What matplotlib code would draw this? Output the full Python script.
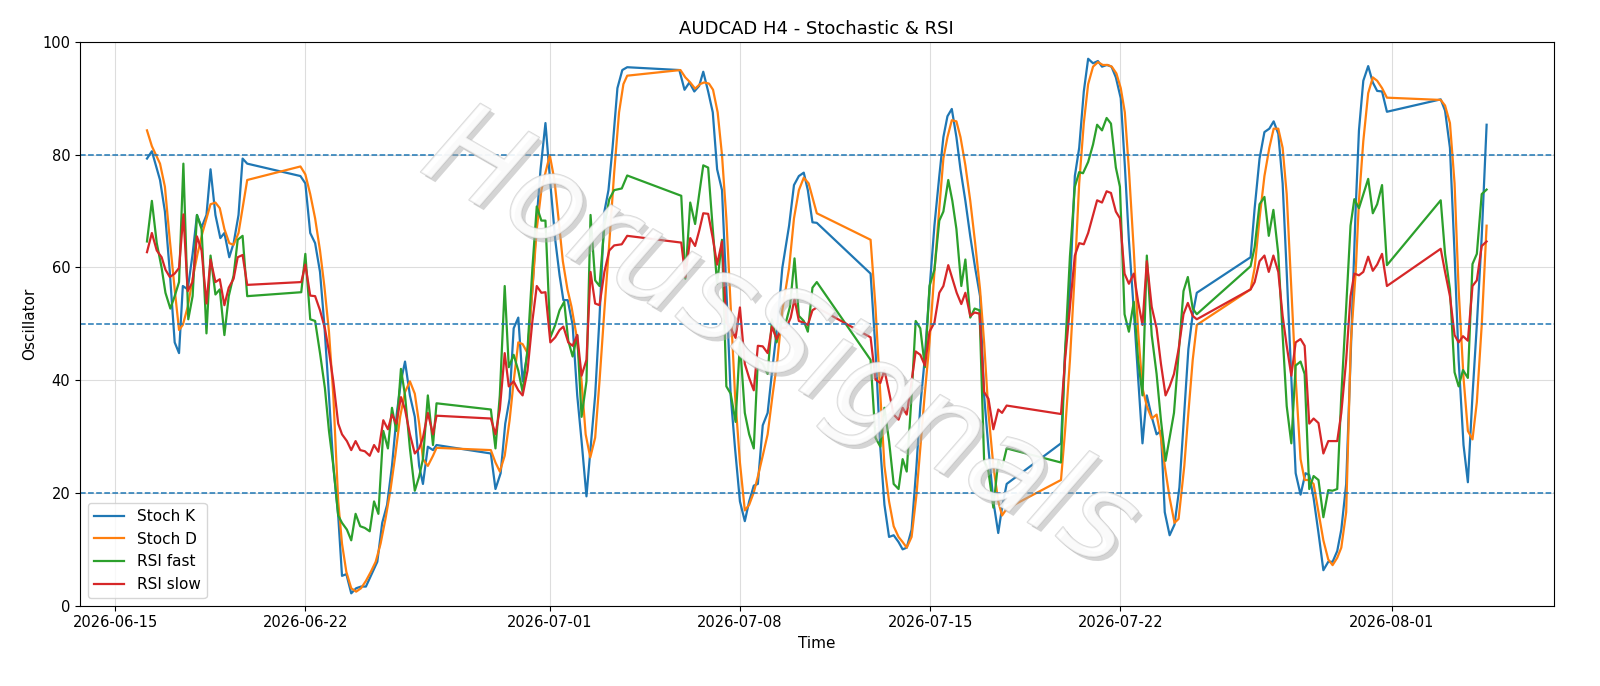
import numpy as np
import pandas as pd
import matplotlib
matplotlib.use("Agg")
import matplotlib.pyplot as plt
import matplotlib.dates as mdates
import matplotlib.patheffects as pe

base = pd.Timestamp("2026-06-15")

k_days = [1.17,1.35,1.65,1.83,2.01,2.19,2.35,2.49,2.67,2.85,3.01,3.18,3.36,3.51,3.69,3.87,4.02,4.20,4.36,4.54,4.69,4.86,
          6.82,7.0,7.18,7.36,7.54,7.70,7.87,8.03,8.21,8.35,8.51,8.69,8.87,9.05,9.23,9.41,9.65,9.83,10.01,10.19,10.37,10.52,10.67,10.85,11.03,11.19,11.33,11.51,11.70,11.83,
          13.83,14.0,14.19,14.36,14.52,14.67,14.84,15.0,15.18,15.36,15.52,15.66,15.84,16.02,16.20,16.36,16.50,16.66,16.84,17.01,17.17,17.35,17.50,17.67,17.83,18.01,18.16,18.31,18.49,18.67,18.85,
          20.77,20.96,21.14,21.32,21.50,21.65,21.83,22.0,22.16,22.34,22.50,22.66,22.82,23.0,23.18,23.34,23.51,23.66,23.84,24.02,24.20,24.38,24.56,24.81,24.99,25.17,25.35,25.50,25.67,25.83,
          27.81,27.99,28.17,28.32,28.49,28.66,28.84,28.99,29.14,29.32,29.50,29.64,29.80,29.98,30.16,30.34,30.49,30.64,30.80,30.97,31.12,31.30,31.48,31.66,31.84,31.99,32.15,32.33,32.51,32.65,32.82,
          34.82,34.97,35.15,35.33,35.49,35.66,35.82,36.0,36.18,36.33,36.51,36.68,36.84,37.02,37.17,37.32,37.50,37.66,37.82,37.98,38.16,38.34,38.50,38.64,38.82,39.0,39.18,39.36,39.51,39.67,39.82,
          41.80,41.95,42.13,42.31,42.49,42.65,42.82,42.98,43.13,43.30,43.46,43.64,43.82,43.96,44.12,44.30,44.48,44.66,44.82,44.99,45.14,45.32,45.49,45.67,45.79,45.95,46.13,46.30,46.46,46.64,46.82,
          48.80,48.96,49.14,49.31,49.46,49.64,49.80,49.97,50.13,50.31,50.49]
k_vals = [79.3,80.6,75.5,69.9,59.2,46.7,44.8,56.7,56.1,62.4,69.3,67.1,69.3,77.4,69.3,65.2,66.1,61.8,64.3,69.3,79.3,78.4,
          76.2,74.9,66.1,64.3,59.2,49.8,37.3,24.8,16.0,5.3,5.6,2.2,3.1,3.4,3.4,5.3,7.8,14.7,17.9,24.8,34.2,39.8,43.3,37.3,33.5,24.8,21.6,28.2,27.6,28.5,
          27.0,20.7,23.5,32.3,36.7,49.2,51.1,39.8,44.8,56.1,68.7,77.4,85.6,74.9,64.9,58.6,54.2,54.2,49.8,37.3,29.2,19.4,27.9,37.3,51.1,69.9,73.7,81.2,91.8,95.0,95.5,
          95.0,91.5,92.8,91.2,92.2,94.7,91.2,87.5,77.4,73.7,56.1,37.3,27.9,18.5,15.0,18.5,21.3,21.6,32.0,34.2,42.3,49.8,59.9,67.4,74.6,76.2,76.8,73.7,68.0,67.9,
          58.9,45.5,27.9,17.9,12.2,12.5,11.3,10.0,10.3,13.5,24.8,35.4,43.6,56.1,67.4,76.2,83.1,86.8,88.1,83.1,77.4,71.8,65.5,59.9,54.9,37.3,27.9,18.5,12.9,17.4,21.6,
          28.8,44.8,56.1,76.2,81.2,91.2,97.0,96.2,96.6,95.6,95.9,95.6,93.7,90.0,78.1,64.9,52.4,40.4,28.8,37.3,33.5,30.4,31.0,16.6,12.5,14.4,21.0,34.2,45.5,51.7,55.5,
          61.8,70.5,79.3,84.0,84.6,85.9,83.7,74.9,59.2,40.4,23.5,19.7,23.5,23.2,19.1,12.9,6.3,7.8,7.8,9.7,13.5,21.6,45.0,70.5,84.3,93.1,95.7,92.8,91.3,91.2,87.6,
          89.8,87.8,81.2,62.4,43.6,28.5,21.9,37.3,49.8,65.5,85.3]

d_days = [1.17,1.35,1.65,1.83,2.01,2.19,2.35,2.49,2.67,2.85,3.03,3.21,3.51,3.69,3.85,4.02,4.20,4.36,4.54,4.69,4.86,
          6.82,7.0,7.18,7.36,7.54,7.70,7.87,8.03,8.21,8.35,8.51,8.69,8.87,9.05,9.23,9.41,9.59,9.77,9.95,10.13,10.31,10.49,10.67,10.85,11.03,11.19,11.33,11.51,11.70,11.83,
          13.83,14.0,14.16,14.34,14.52,14.67,14.84,15.0,15.18,15.36,15.52,15.69,15.84,16.0,16.17,16.32,16.48,16.65,16.80,16.98,17.17,17.32,17.49,17.67,17.83,18.01,18.19,18.37,18.55,18.71,18.85,
          20.81,20.99,21.17,21.35,21.53,21.68,21.86,22.01,22.18,22.34,22.50,22.66,22.82,23.0,23.18,23.34,23.51,23.66,23.84,24.02,24.20,24.38,24.56,24.81,24.99,25.17,25.35,25.53,25.83,
          27.81,27.99,28.17,28.32,28.49,28.66,28.84,28.99,29.14,29.32,29.50,29.64,29.80,29.98,30.16,30.34,30.49,30.64,30.80,30.97,31.12,31.30,31.48,31.66,31.84,31.99,32.15,32.33,32.51,32.65,32.82,
          34.82,34.97,35.15,35.33,35.49,35.66,35.82,36.0,36.18,36.36,36.54,36.69,36.86,37.02,37.17,37.32,37.50,37.66,37.82,37.98,38.16,38.34,38.50,38.64,38.82,39.0,39.15,39.36,39.51,39.67,39.82,
          41.80,41.95,42.13,42.31,42.49,42.65,42.82,42.98,43.13,43.30,43.46,43.64,43.79,43.96,44.12,44.30,44.48,44.66,44.82,44.99,45.14,45.32,45.49,45.67,45.79,45.95,46.13,46.30,46.46,46.64,46.82,
          48.80,48.96,49.14,49.31,49.46,49.64,49.80,49.97,50.13,50.31,50.49]
d_vals = [84.3,81.5,78.4,74.3,64.9,56.1,48.9,49.8,53.0,58.0,62.4,66.1,71.2,71.5,70.5,66.8,64.3,64.0,66.1,70.5,75.5,
          77.9,76.5,73.0,68.7,63.0,56.7,48.6,37.3,18.5,11.0,6.0,3.1,2.5,3.1,4.4,6.0,7.8,11.0,15.4,20.4,26.6,33.5,37.9,39.8,37.6,32.3,26.0,24.8,26.6,28.0,
          27.6,25.4,23.8,26.6,32.9,39.8,46.7,46.4,44.8,56.1,66.8,73.7,76.8,79.9,75.5,68.7,61.1,56.1,53.0,48.0,39.8,30.4,26.3,29.8,39.8,52.4,64.3,76.8,87.5,92.5,94.0,
          95.0,93.7,92.8,91.7,92.5,92.8,92.6,91.5,87.5,79.9,68.7,53.0,37.3,25.4,16.9,17.9,20.1,22.9,26.6,30.4,37.3,43.6,52.4,59.9,68.7,73.7,75.9,74.9,69.6,
          64.9,53.0,37.3,24.8,18.5,14.1,12.2,11.3,10.3,12.2,19.7,27.9,37.3,46.7,59.2,70.5,79.3,83.1,86.1,85.9,83.1,78.1,71.8,64.3,56.1,46.7,34.2,24.8,18.5,16.0,17.2,
          22.3,31.0,43.6,59.2,74.9,85.6,92.5,95.6,96.4,95.9,95.9,95.6,94.4,91.8,87.5,77.4,63.0,48.6,38.6,35.4,33.2,33.9,29.8,24.8,19.1,14.7,15.4,24.8,34.2,43.6,49.8,
          56.1,59.9,68.7,76.2,81.2,84.6,84.6,81.2,73.0,56.1,40.4,26.0,22.3,22.3,21.6,16.6,11.6,8.2,7.2,8.5,10.3,16.6,46.7,59.2,71.8,82.4,90.9,93.7,93.1,91.8,90.1,
          89.7,88.7,85.6,74.9,56.1,40.4,31.0,29.5,36.1,49.8,67.4]

rf_days = [1.17,1.35,1.53,1.71,1.85,2.03,2.19,2.35,2.51,2.69,2.85,3.01,3.18,3.36,3.51,3.69,3.85,4.02,4.18,4.36,4.51,4.69,4.86,
           6.85,7.0,7.18,7.36,7.54,7.72,7.87,8.03,8.21,8.35,8.53,8.69,8.85,9.02,9.19,9.37,9.53,9.69,9.87,10.04,10.19,10.35,10.52,10.67,10.85,11.03,11.19,11.33,11.51,11.70,11.83,
           13.83,14.0,14.16,14.34,14.49,14.67,14.84,15.0,15.18,15.36,15.52,15.69,15.84,16.02,16.20,16.36,16.53,16.68,16.84,17.01,17.17,17.35,17.50,17.67,17.83,18.01,18.19,18.37,18.65,18.85,
           20.84,20.99,21.17,21.35,21.50,21.65,21.83,22.0,22.16,22.34,22.50,22.66,22.84,23.0,23.18,23.34,23.51,23.66,23.84,24.02,24.18,24.35,24.54,24.69,24.84,25.01,25.17,25.35,25.50,25.67,25.83,
           27.81,27.99,28.17,28.32,28.49,28.66,28.84,28.99,29.14,29.32,29.47,29.64,29.81,29.98,30.16,30.34,30.49,30.67,30.82,30.97,31.15,31.30,31.48,31.64,31.82,31.99,32.15,32.33,32.51,32.65,32.82,
           34.82,34.97,35.15,35.33,35.49,35.63,35.82,36.0,36.15,36.33,36.50,36.66,36.84,36.99,37.16,37.32,37.50,37.66,37.82,37.98,38.16,38.34,38.50,38.67,38.82,38.98,39.15,39.33,39.49,39.67,39.82,
           41.80,41.95,42.13,42.31,42.47,42.64,42.82,42.98,43.13,43.30,43.46,43.64,43.79,43.96,44.12,44.30,44.48,44.66,44.82,44.99,45.14,45.32,45.48,45.62,45.79,46.13,46.30,46.46,46.64,46.82,
           48.80,48.96,49.14,49.31,49.46,49.62,49.80,49.97,50.13,50.31,50.49]
rf_vals = [64.6,71.8,64.3,59.9,55.5,52.7,54.9,57.4,78.4,50.8,54.9,69.3,66.8,48.3,62.1,55.2,56.1,48.0,54.9,58.6,64.9,65.6,54.9,
           55.6,62.4,50.8,50.5,44.8,38.6,31.0,24.8,16.0,14.7,13.5,11.6,16.3,14.1,13.8,13.2,18.5,16.3,31.0,27.9,35.1,31.0,42.0,37.3,27.9,20.4,22.9,26.0,37.3,28.5,35.9,
           34.8,27.9,37.3,56.7,42.3,44.5,41.7,37.9,45.5,59.9,70.8,68.3,68.3,47.6,49.8,52.4,53.9,47.0,44.2,48.0,33.5,39.8,69.3,57.7,56.7,67.4,72.1,73.7,74.0,76.3,
           72.7,58.0,71.5,67.7,73.0,78.1,77.7,66.8,57.1,64.9,38.9,37.6,32.6,46.7,34.2,30.4,27.9,43.6,42.9,41.1,50.8,46.7,50.5,50.2,53.0,61.6,51.4,50.5,48.6,56.4,57.4,
           43.6,29.8,28.2,35.1,29.2,21.6,20.7,26.0,23.8,37.3,50.5,49.2,42.3,56.7,59.6,68.3,69.9,75.5,71.8,66.8,56.7,61.4,51.1,52.7,52.4,25.7,23.8,17.4,25.7,24.5,27.9,
           25.4,45.0,62.0,74.3,76.9,76.7,78.7,81.8,85.3,84.3,86.5,85.5,77.7,74.3,51.7,48.6,53.9,43.6,37.3,62.1,48.0,41.1,32.9,25.7,29.8,34.2,44.8,55.8,58.3,52.7,51.7,
           60.2,63.6,71.2,72.5,65.6,70.2,62.4,48.0,35.4,28.8,42.6,43.3,41.1,20.7,23.0,22.3,15.7,20.5,20.4,20.7,37.3,53.0,67.4,72.1,70.5,75.7,69.6,71.2,74.6,60.4,
           71.9,62.4,56.1,41.4,38.9,41.8,40.4,60.6,62.4,73.0,73.8]

rs_days = [1.17,1.35,1.53,1.71,1.85,2.01,2.19,2.35,2.51,2.67,2.85,3.01,3.18,3.36,3.51,3.69,3.85,4.02,4.18,4.36,4.51,4.69,4.86,
           6.85,7.0,7.18,7.36,7.54,7.72,7.88,8.03,8.21,8.35,8.53,8.69,8.85,9.02,9.19,9.37,9.53,9.69,9.87,10.04,10.19,10.35,10.52,10.67,10.85,11.03,11.19,11.33,11.51,11.70,11.83,
           13.83,14.0,14.16,14.34,14.49,14.67,14.84,15.0,15.18,15.36,15.52,15.69,15.84,16.02,16.20,16.36,16.50,16.68,16.84,17.01,17.17,17.35,17.50,17.67,17.83,18.01,18.19,18.37,18.65,18.85,
           20.84,20.99,21.17,21.35,21.50,21.65,21.83,22.0,22.16,22.34,22.50,22.66,22.84,23.0,23.18,23.34,23.51,23.66,23.84,24.02,24.18,24.35,24.54,24.71,24.87,25.01,25.17,25.35,25.50,25.67,25.83,
           27.81,27.99,28.17,28.32,28.49,28.66,28.84,28.99,29.14,29.32,29.47,29.64,29.81,29.98,30.16,30.34,30.49,30.67,30.82,30.98,31.15,31.30,31.48,31.64,31.82,31.99,32.15,32.33,32.51,32.65,32.82,
           34.82,34.97,35.15,35.33,35.49,35.66,35.82,36.0,36.15,36.33,36.50,36.66,36.84,36.99,37.16,37.32,37.50,37.66,37.82,37.98,38.16,38.34,38.50,38.67,38.82,38.98,39.15,39.33,39.49,39.67,39.82,
           41.80,41.95,42.13,42.31,42.47,42.64,42.82,42.98,43.13,43.30,43.46,43.64,43.79,43.96,44.12,44.30,44.48,44.66,44.82,44.99,45.14,45.32,45.48,45.62,45.79,45.95,46.13,46.30,46.46,46.64,46.82,
           48.80,48.96,49.14,49.31,49.46,49.62,49.80,49.97,50.13,50.31,50.49]
rs_vals = [62.7,66.1,63.0,61.8,59.6,58.3,58.9,59.9,69.4,55.8,57.4,65.5,63.0,53.6,61.4,57.4,57.9,53.3,56.4,58.0,61.8,62.2,56.9,
           57.4,60.5,55.0,54.9,52.4,49.2,44.8,39.8,32.3,30.4,29.2,27.6,29.2,27.6,27.4,26.6,28.5,27.3,32.9,31.3,33.9,32.3,37.0,34.8,30.4,27.0,27.9,29.8,34.2,30.4,33.7,
           33.2,30.4,34.8,44.8,38.9,39.8,38.2,37.3,41.7,50.5,56.7,55.5,55.6,46.7,47.6,48.9,49.5,46.7,46.1,48.0,40.8,43.6,59.2,53.6,53.3,59.2,63.0,63.9,64.1,65.6,
           64.4,58.3,65.2,63.8,66.5,69.6,69.5,65.2,60.5,64.6,50.2,49.2,47.5,52.9,42.9,40.4,38.2,46.1,46.0,44.8,49.5,47.3,49.3,49.3,51.1,54.4,50.5,50.2,49.8,52.4,52.9,
           47.6,40.1,39.5,41.8,37.9,33.9,33.0,35.1,33.9,39.8,45.1,44.5,42.6,48.6,50.2,55.5,56.7,60.4,58.0,55.5,53.5,55.5,51.4,52.0,51.8,37.9,36.7,31.3,34.8,34.2,35.5,
           34.0,43.6,53.0,62.1,64.3,64.1,66.1,69.3,71.9,71.5,73.5,73.2,69.9,68.7,58.9,57.1,58.9,53.9,49.8,61.1,53.0,49.2,42.9,37.3,38.9,41.1,45.5,51.7,53.7,51.4,50.8,
           56.1,57.4,61.1,62.1,59.2,62.1,59.2,51.4,46.1,40.8,46.7,47.3,46.1,32.3,33.2,32.4,27.0,29.2,29.2,29.2,34.2,43.6,54.9,58.9,58.6,59.2,61.9,59.4,60.5,62.4,56.7,
           63.3,59.2,54.9,48.0,46.7,47.8,47.0,56.7,57.7,63.8,64.6]


def to_time(days):
    return base + pd.to_timedelta(np.array(days), unit="D")


fig, ax = plt.subplots(figsize=(16, 6.86), dpi=100)
ax.plot(to_time(k_days), k_vals, color="#1f77b4", lw=1.6, label="Stoch K")
ax.plot(to_time(d_days), d_vals, color="#ff7f0e", lw=1.6, label="Stoch D")
ax.plot(to_time(rf_days), rf_vals, color="#2ca02c", lw=1.6, label="RSI fast")
ax.plot(to_time(rs_days), rs_vals, color="#d62728", lw=1.6, label="RSI slow")
for lv in (20, 50, 80):
    ax.axhline(lv, color="#1f77b4", ls="--", lw=1.1)
ax.set_ylim(0, 100)
ax.grid(True, color="#dddddd", lw=0.8)
ax.xaxis.set_major_formatter(mdates.DateFormatter("%Y-%m-%d"))
ax.set_title("AUDCAD H4 - Stochastic & RSI", fontsize=13)
ax.set_xlabel("Time", fontsize=11)
ax.set_ylabel("Oscillator", fontsize=11)
ax.tick_params(labelsize=10.5)
ax.legend(loc="lower left", fontsize=11)
ax.text(0.475, 0.47, "HorusSignals", transform=ax.transAxes, fontsize=88, rotation=-30,
        ha="center", va="center", style="italic", fontweight="light", color="white", alpha=0.55, zorder=5,
        path_effects=[pe.withSimplePatchShadow(offset=(3, -3), shadow_rgbFace="#aaaaaa", alpha=0.5),
                      pe.withStroke(linewidth=1.2, foreground="#bbbbbb")])
fig.subplots_adjust(left=0.05, right=0.971, top=0.939, bottom=0.117)
fig.savefig("out.png", dpi=100)
